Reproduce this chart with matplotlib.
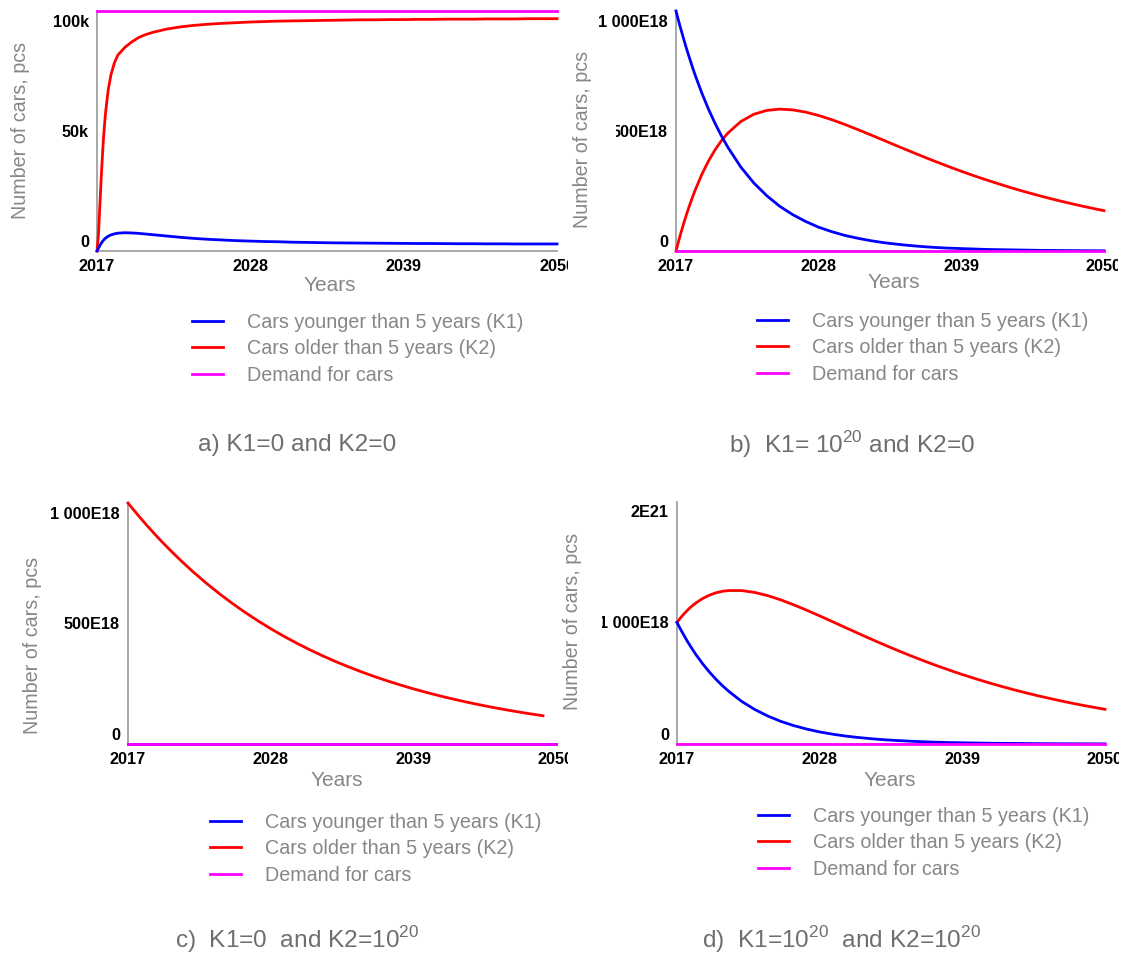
import matplotlib
matplotlib.use('Agg')
import matplotlib.pyplot as plt
import numpy as np
from matplotlib.transforms import ScaledTranslation
from matplotlib.patches import Rectangle

# ---------------- data ----------------
years = [2017, 2017.1, 2017.2, 2017.3, 2017.45, 2017.6, 2017.8, 2018, 2018.25, 2018.5,
         2019, 2019.5, 2020, 2020.5, 2021, 2022, 2023, 2024, 2025, 2026, 2027, 2028,
         2029, 2030, 2031, 2032, 2033, 2034, 2035, 2036, 2037, 2038, 2039, 2040, 2041,
         2042, 2043, 2044, 2045, 2046, 2047, 2048, 2049, 2050]
x_ticks = [2017, 2028, 2039, 2050]

# panel a (thousands of cars)
a_young = [0, 1.2, 2.4, 3.5, 4.8, 5.8, 6.7, 7.3, 7.8, 8.1, 8.3, 8.2, 8.0, 7.7, 7.4,
           6.8, 6.2, 5.7, 5.3, 5.0, 4.7, 4.5, 4.3, 4.2, 4.0, 3.9, 3.8, 3.7, 3.65, 3.6,
           3.55, 3.5, 3.45, 3.4, 3.4, 3.35, 3.3, 3.3, 3.25, 3.25, 3.2, 3.2, 3.2, 3.2]
a_old = [0, 7, 20, 33, 50, 62, 73, 80, 85.5, 89, 92.5, 95, 97, 98.3, 99.3,
         100.8, 101.8, 102.5, 103, 103.4, 103.7, 104, 104.2, 104.4, 104.5, 104.6, 104.7,
         104.8, 104.9, 105, 105, 105.1, 105.1, 105.2, 105.2, 105.3, 105.3, 105.3, 105.4,
         105.4, 105.4, 105.5, 105.5, 105.5]
a_demand = 109.0

# panel b (units of 1E18)
b_young = [1090, 1067, 1045, 1023, 992, 961, 921, 884, 838, 795, 716, 645, 581, 523, 471,
           381, 309, 251, 203, 165, 134, 108, 88, 71, 58, 47, 38, 31, 25, 20, 16, 13, 11,
           9, 7, 6, 5, 4, 3, 2.5, 2, 1.6, 1.3, 1.1]
b_old = [0, 22.6, 44.5, 66.0, 96.9, 126.5, 164.1, 199.6, 241.2, 279.7, 349.0, 408.1, 458.5,
         500.9, 535.7, 588.2, 621.0, 638.6, 644.3, 640.9, 630.7, 615.5, 596.6, 575.2, 551.9,
         527.7, 503.2, 478.3, 454.0, 429.9, 406.5, 383.9, 362.1, 341.4, 321.5, 302.6, 284.5,
         267.4, 251.4, 236.1, 221.7, 208.1, 195.3, 183.2]
b_demand = 0.0

# panel c
c_young = 0.0
c_old = [1090, 1082.7, 1075.5, 1068.3, 1057.6, 1047.1, 1033.1, 1019.4, 1002.5, 985.7, 953.3,
         921.8, 891.5, 862.2, 833.8, 779.7, 729.2, 681.9, 637.7, 596.4, 557.8, 521.6, 487.8,
         456.2, 426.6, 399.0, 373.1, 349.0, 326.3, 305.2, 285.4, 266.9, 249.6, 233.4, 218.3,
         204.2, 190.9, 178.6, 167.0, 156.2, 146.0, 136.6, 127.7, np.nan]
c_demand = 0.0

# panel d
d_young = [1090, 1067, 1045, 1023, 992, 961, 921, 884, 838, 795, 716, 645, 581, 523, 471,
           381, 309, 251, 203, 165, 134, 108, 88, 71, 58, 47, 38, 31, 25, 20, 16, 13, 11,
           9, 7, 6, 5, 4, 3, 2.5, 2, 1.6, 1.3, 1.1]
d_old = [1090, 1105.5, 1120.4, 1135.0, 1155.5, 1174.8, 1198.9, 1221.0, 1246.1, 1268.3, 1306.1,
         1334.7, 1355.6, 1369.4, 1376.1, 1375.8, 1359.0, 1330.2, 1292.3, 1248.1, 1199.7,
         1148.7, 1096.3, 1043.4, 990.6, 938.8, 888.5, 839.3, 792.3, 746.9, 703.6, 662.3,
         622.9, 585.8, 550.6, 517.2, 485.6, 455.9, 428.0, 401.6, 376.8, 353.4, 331.5, 310.8]
d_demand = 0.0

legend_labels = ["Cars younger than 5 years (K1)", "Cars older than 5 years (K2)", "Demand for cars"]
ylabel_text = "Number of cars, pcs"
xlabel_text = "Years"
captions = ["a) K1=0 and K2=0",
            r"b)  K1= 10$^{\mathregular{20}}$ and K2=0",
            r"c)  K1=0  and K2=10$^{\mathregular{20}}$",
            r"d)  K1=10$^{\mathregular{20}}$  and K2=10$^{\mathregular{20}}$"]

# ---------------- style ----------------
plt.rcParams['font.family'] = ['Liberation Sans', 'DejaVu Sans']
plt.rcParams['mathtext.fontset'] = 'custom'
plt.rcParams['mathtext.rm'] = 'Liberation Sans'

FAM = ['Liberation Sans', 'DejaVu Sans']

W, H = 1125, 956
fig = plt.figure(figsize=(W / 100, H / 100), dpi=100)
fig.patch.set_facecolor('white')


def fx(x):
    return x / W


def fy(y):
    return 1 - y / H


def rect(l, t, r, b):
    return [l / W, 1 - b / H, (r - l) / W, (b - t) / H]


BLUE, RED, MAG = '#0000ff', '#ff0000', '#ff00ff'
GRAY_TXT = '#878787'
CAP_TXT = '#6e6e6e'

panels = [
    dict(rect=(97, 11, 557, 251), young=a_young, old=a_old, demand=a_demand, ylim=(0, 109),
         yticks=[0, 50, 100], ylabels=['0', '50k', '100k'], ylab=(21, 130), xlab=(330, 286),
         legend=(192, 313), caption=(297, 445)),
    dict(rect=(676, 11, 1104, 251), young=b_young, old=b_old, demand=b_demand, ylim=(0, 1090),
         yticks=[0, 500, 1000], ylabels=['0', '500E18', '1 000E18'], ylab=(583, 139),
         xlab=(894, 283), legend=(757, 312), caption=(852, 445)),
    dict(rect=(128, 503, 556, 744), young=c_young, old=c_old, demand=c_demand, ylim=(0, 1090),
         yticks=[0, 500, 1000], ylabels=['0', '500E18', '1 000E18'], ylab=(33, 645),
         xlab=(337, 781), legend=(210, 813), caption=(297, 940)),
    dict(rect=(677, 502, 1105, 744), young=d_young, old=d_old, demand=d_demand, ylim=(0, 2170),
         yticks=[0, 1000, 2000], ylabels=['0', '1 000E18', '2E21'], ylab=(572, 621),
         xlab=(890, 780), legend=(758, 807), caption=(842, 940)),
]

yr = np.array(years)
for i, p in enumerate(panels):
    ax = fig.add_axes(rect(*p['rect']))
    young = np.broadcast_to(np.asarray(p['young'], dtype=float), yr.shape)
    old = np.asarray(p['old'], dtype=float)
    dem = np.broadcast_to(np.asarray(p['demand'], dtype=float), yr.shape)
    l_old, = ax.plot(yr, old, color=RED, lw=2.0, clip_on=False, zorder=3)
    l_young, = ax.plot(yr, young, color=BLUE, lw=2.0, clip_on=False, zorder=4)
    l_dem, = ax.plot(yr, dem, color=MAG, lw=2.0, clip_on=False, zorder=5)
    ax.set_xlim(2017, 2050)
    ax.set_ylim(*p['ylim'])
    for s in ['top', 'right']:
        ax.spines[s].set_visible(False)
    for s in ['left', 'bottom']:
        ax.spines[s].set_color('#a0a0a0')
        ax.spines[s].set_linewidth(1.3)
    ax.set_xticks(x_ticks, [str(v) for v in x_ticks])
    ax.set_yticks(p['yticks'], p['ylabels'])
    ax.tick_params(axis='both', length=0, labelsize=11.7, labelcolor='black')
    ax.tick_params(axis='x', pad=5.5)
    ax.tick_params(axis='y', pad=5.8)
    for lbl in ax.get_xticklabels() + ax.get_yticklabels():
        lbl.set_fontweight('bold')
    off = ScaledTranslation(0, 0.10, fig.dpi_scale_trans)
    for tk in ax.yaxis.get_major_ticks():
        tk.label1.set_transform(tk.label1.get_transform() + off)
    ax.set_ylabel(ylabel_text, color=GRAY_TXT, family=FAM, size=14.2)
    ax.yaxis.set_label_coords(fx(p['ylab'][0]), fy(p['ylab'][1]), transform=fig.transFigure)
    ax.yaxis.label.set_va('center')
    ax.yaxis.label.set_ha('center')
    ax.set_xlabel(xlabel_text, color=GRAY_TXT, family=FAM, size=15)
    ax.xaxis.set_label_coords(fx(p['xlab'][0]), fy(p['xlab'][1]), transform=fig.transFigure)
    ax.xaxis.label.set_va('center')
    ax.patch.set_alpha(0)
    leg = ax.legend([l_young, l_old, l_dem], legend_labels, loc='upper left',
                    bbox_to_anchor=(fx(p['legend'][0]), fy(p['legend'][1])),
                    bbox_transform=fig.transFigure, frameon=False, borderpad=0,
                    borderaxespad=0, handlelength=1.55, handletextpad=1.22,
                    labelspacing=0.37, prop=dict(family=FAM, size=14.2))
    for t in leg.get_texts():
        t.set_color(GRAY_TXT)
    fig.text(fx(p['caption'][0]), fy(p['caption'][1]), captions[i], ha='center', va='center',
             fontsize=17.6, color=CAP_TXT, family=FAM)

# cropping artefacts of the original composite
for (x0, y0, x1, y1) in [(568, 253, 576, 280), (568, 748, 576, 772), (1118, 253, 1125, 280),
                         (1119, 748, 1125, 772), (595, 118, 616, 145), (586, 610, 601.5, 636)]:
    fig.add_artist(Rectangle((fx(x0), fy(y1)), (x1 - x0) / W, (y1 - y0) / H,
                             transform=fig.transFigure, facecolor='white', edgecolor='none',
                             zorder=20))

fig.savefig('out.png', dpi=100, facecolor='white')
